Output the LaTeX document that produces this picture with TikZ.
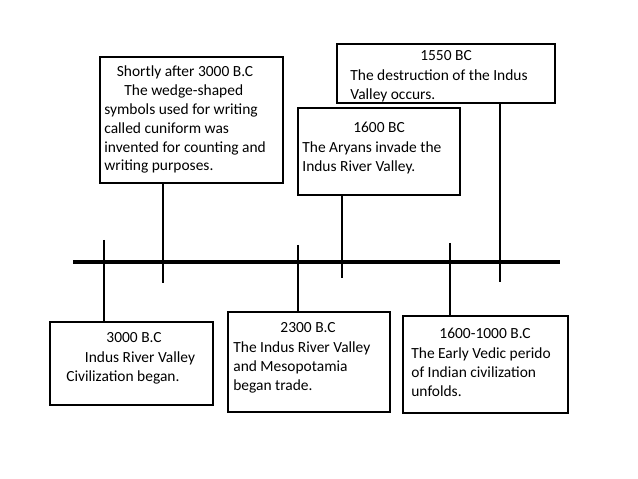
\documentclass[tikz,border=0pt]{standalone}
\usepackage{fontspec}
\setmainfont{Carlito}
\usepackage{tikz}

\begin{document}
\begin{tikzpicture}[x=0.02cm,y=-0.02cm,
   evbox/.style={draw=black,line width=1.6pt},
   evtitle/.style={font=\fontsize{8.8}{10.8}\selectfont,inner sep=0pt,anchor=north},
   evtext/.style={font=\fontsize{8.8}{10.8}\selectfont,align=left,inner sep=0pt,anchor=north west},
   tick/.style={line width=1.4pt}]
         \useasboundingbox[fill=white] (0,0) rectangle (638,479);
         % timeline
         \coordinate (tl) at (73,262);
         \coordinate (tr) at (560,262);
         \draw[line width=1.8pt] (tl) -- (tr);
         % boxes above
         \draw[evbox] (100,57) rectangle (283,183);
         \node[evtitle] (shortlyt) at (185,65) {Shortly after 3000 B.C};
         \node[evtext] (shortly) at (104,84) {\hspace*{1.3em}The wedge-shaped\\symbols used for writing\\called cuniform was\\invented for counting and\\writing purposes.};
         \draw[evbox] (337,44) rectangle (555,103);
         \node[evtitle] (destructt) at (446,50) {1550 BC};
         \node[evtext] (destruct) at (350,69) {The destruction of the Indus\\Valley occurs.};
         \draw[evbox] (298,108) rectangle (460,195);
         \node[evtitle] (aryanst) at (379,122) {1600 BC};
         \node[evtext] (aryans) at (302,141) {The Aryans invade the\\Indus River Valley.};
         % boxes below
         \draw[evbox] (50,322) rectangle (213,405);
         \node[evtitle] (indust) at (134,332) {3000 B.C};
         \node[evtext] (indus) at (66,351) {\hspace*{1.2em}Indus River Valley\\Civilization began.};
         \draw[evbox] (228,312) rectangle (390,412);
         \node[evtitle] (tradet) at (308,322) {2300 B.C};
         \node[evtext] (trade) at (233,341) {The Indus River Valley\\and Mesopotamia\\began trade.};
         \draw[evbox] (403,316) rectangle (568,413);
         \node[evtitle] (vedict) at (485,328) {1600-1000 B.C};
         \node[evtext] (vedic) at (411,347) {The Early Vedic perido\\of Indian civilization\\unfolds.};
         % ticks
         \draw[tick] (104,240) -- (104,322);
         \draw[tick] (163,183) -- (163,283);
         \draw[tick] (298,245) -- (298,312);
         \draw[tick] (342,195) -- (342,278);
         \draw[tick] (450,243) -- (450,316);
         \draw[tick] (500,103) -- (500,282);
      \end{tikzpicture}
\end{document}
